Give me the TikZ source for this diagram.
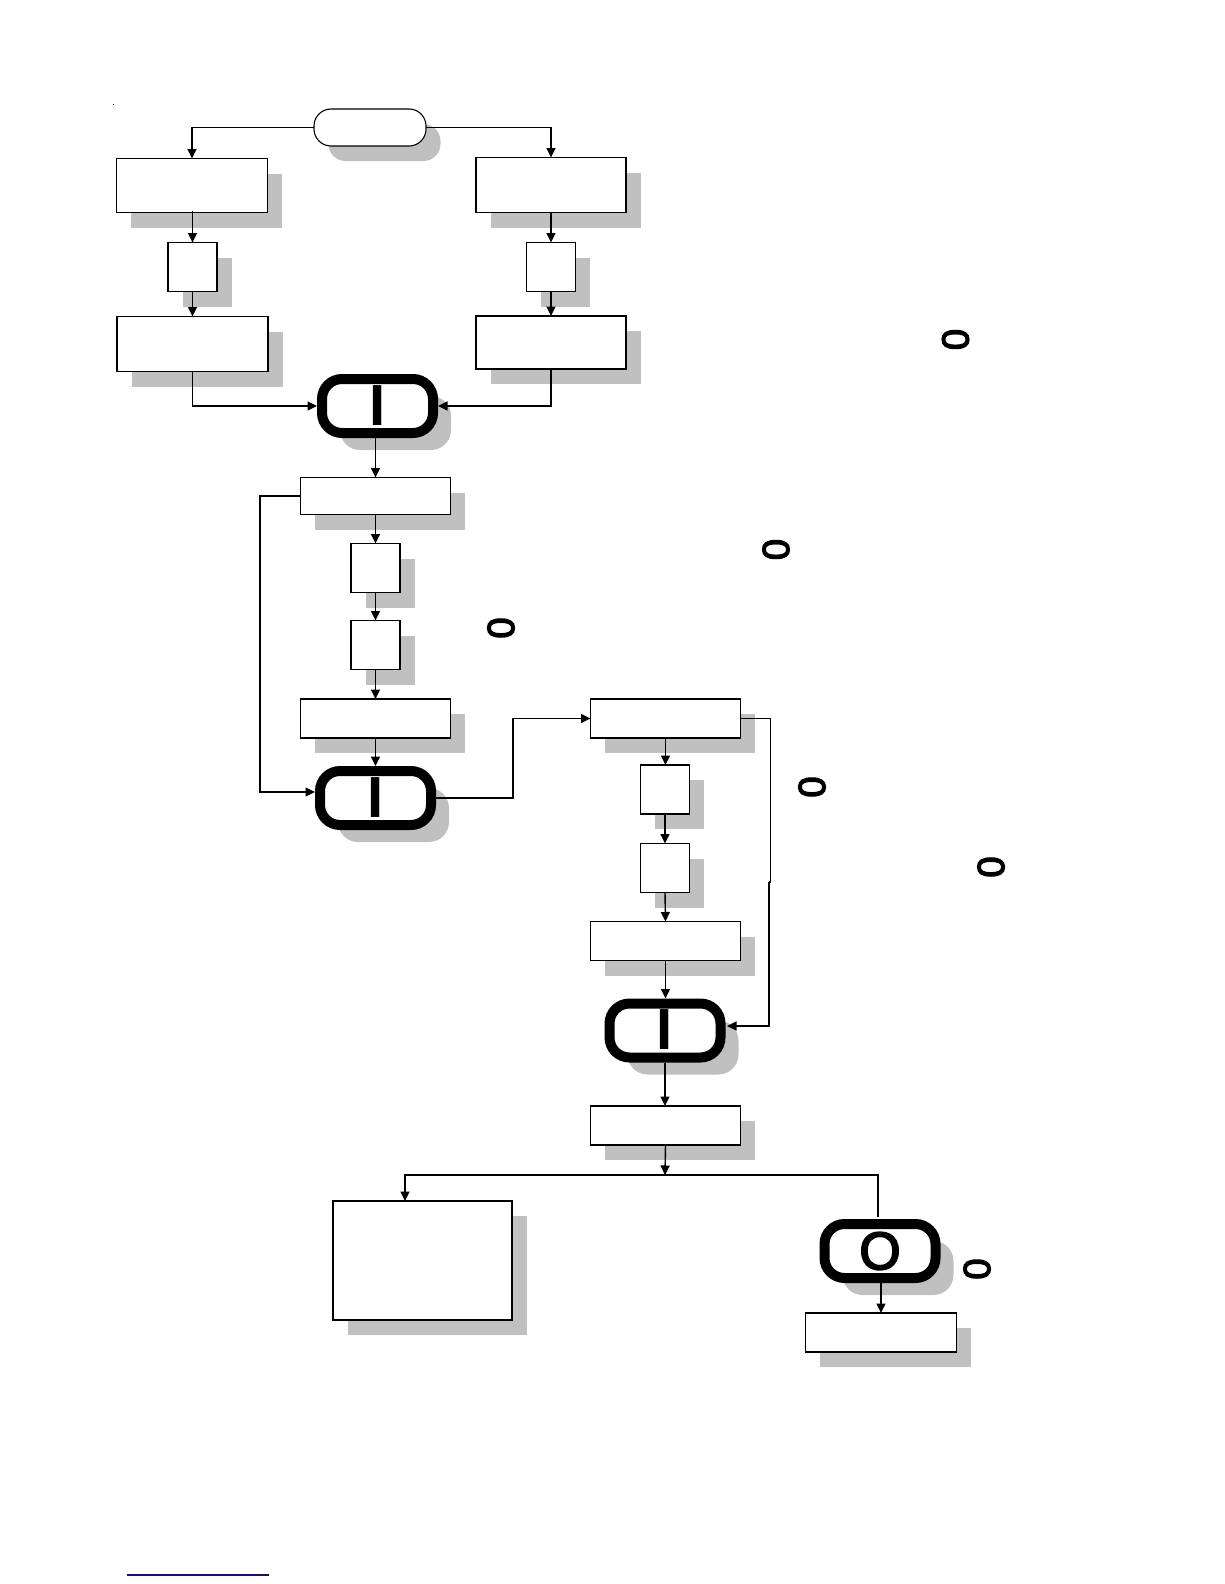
\documentclass[tikz,border=0pt]{standalone}
\usepackage{fontspec}
\setmainfont{Liberation Sans}
\newfontfamily\glyphfont[FakeBold=3.5]{Liberation Sans}
\usetikzlibrary{arrows.meta,shadows,calc}
\definecolor{shadowgray}{HTML}{C0C0C0}
\definecolor{navyline}{HTML}{10107F}
\tikzset{
  x=1pt,y=-1pt,
  sz/.style 2 args={minimum width=#1pt,minimum height=#2pt},
  boxnode/.style={draw=black,line width=1.4pt,fill=white,inner sep=0pt,outer sep=0pt,
    general shadow={shadow xshift=14.5pt,shadow yshift=-15pt,fill=shadowgray}},
  pillnode/.style={draw=black,line width=1.1pt,fill=white,inner sep=0pt,outer sep=0pt,rounded corners=17pt,
    general shadow={shadow xshift=14.5pt,shadow yshift=-15pt,fill=shadowgray}},
  termnode/.style={draw=black,line width=10pt,fill=white,inner sep=0pt,rounded corners=20pt,sz={111}{54},
    general shadow={shadow xshift=18pt,shadow yshift=-17pt,fill=shadowgray}},
  barglyph/.style={inner sep=0pt,font=\fontsize{58}{58}\selectfont\bfseries},
  ringglyph/.style={inner sep=0pt,font=\fontsize{53}{53}\selectfont\glyphfont},
  zeroglyph/.style={inner sep=0pt,rotate=90,font=\fontsize{38}{38}\selectfont\glyphfont},
  conn/.style={draw=black,line width=1.4pt},
  thinconn/.style={line width=1.15pt},
  arrowconn/.style={conn,-{Triangle[length=9.5pt,width=9pt]}},
}
\begin{document}
\begin{tikzpicture}
\useasboundingbox[fill=white] (0,0) rectangle (1224,1584);
% nodes
\node[pillnode,sz={112}{37}] (start) at (370,127.5) {};
\node[boxnode,sz={151}{54}] (L1) at (192,185.5) {};
\node[boxnode,sz={49}{49}] (L2) at (192.5,267) {};
\node[boxnode,sz={151}{55}] (L3) at (192.5,344) {};
\node[boxnode,sz={150}{55}] (R1) at (551,185) {};
\node[boxnode,sz={49}{49}] (R2) at (551,267) {};
\node[boxnode,sz={150}{53}] (R3) at (551,342.5) {};
\node[termnode] (T1) at (377.5,406) {};
\node[barglyph] (T1bar) at (377.5,405.5) {I};
\node[boxnode,sz={150}{37}] (C1) at (375.5,496) {};
\node[boxnode,sz={49}{49}] (C2) at (375.5,568) {};
\node[boxnode,sz={49}{49}] (C3) at (375.5,645) {};
\node[boxnode,sz={150}{39}] (C4) at (375.5,718.5) {};
\node[termnode] (T2) at (375.5,798) {};
\node[barglyph] (T2bar) at (376,798) {I};
\node[boxnode,sz={150}{39}] (D1) at (665.5,718.5) {};
\node[boxnode,sz={49}{49}] (D2) at (665,789.5) {};
\node[boxnode,sz={49}{49}] (D3) at (665,868) {};
\node[boxnode,sz={150}{39}] (D4) at (665.5,941) {};
\node[termnode] (T3) at (665,1030.5) {};
\node[barglyph] (T3bar) at (665,1030) {I};
\node[boxnode,sz={150}{39}] (E1) at (665.5,1125.5) {};
\node[boxnode,sz={179}{119}] (big) at (422.5,1260.5) {};
\node[termnode] (T4) at (880,1251) {};
\node[ringglyph] (T4ring) at (880,1251) {O};
\node[boxnode,sz={151}{39}] (F1) at (881,1332.5) {};
% rotated zeros
\node[zeroglyph] (z1) at (955.5,339.5) {0};
\node[zeroglyph] (z2) at (776,549.5) {0};
\node[zeroglyph] (z3) at (501,628) {0};
\node[zeroglyph] (z4) at (812,787) {0};
\node[zeroglyph] (z5) at (991,867) {0};
\node[zeroglyph] (z6) at (977,1269) {0};
% free ends
\coordinate (lefttop) at (192,127.5);
\coordinate (righttop) at (551,127.5);
\coordinate (t2in) at (315,792);
\coordinate (t3in) at (727,1026);
\coordinate (d1out) at (770.5,718.5);
\coordinate (jogtop) at (770.5,882);
\coordinate (jogbot) at (769,882);
\coordinate (branch) at (665,1175);
\coordinate (bigin) at (405,1201);
\coordinate (t4in) at (878,1217);
% connectors
\draw[arrowconn,thinconn] (start.west) -- (lefttop) -- (L1.north);
\draw[arrowconn,thinconn] (start.east) -- (righttop) -- (R1.north);
\draw[arrowconn] (L2.north |- L1.south) ++(0,-2) -- (L2.north);
\draw[arrowconn] (L2.south) -- (L3.north);
\draw[arrowconn] (R1.south) -- (R2.north);
\draw[arrowconn] (R2.south) -- (R3.north);
\draw[arrowconn] (L3.south) |- (T1.west);
\draw[arrowconn,thinconn] (R3.south) |- (T1.east);
\draw[arrowconn] (C1.north |- T1.south) -- (C1.north);
\draw[arrowconn] (C1.south) -- (C2.north);
\draw[arrowconn] (C2.south) -- (C3.north);
\draw[arrowconn] (C3.south) -- (C4.north);
\draw[arrowconn] (C4.south) -- (T2.north);
\draw[arrowconn,thinconn] (C1.west) -- ++(-40.5,0) |- (t2in);
\draw[arrowconn,thinconn] (T2.east) -- ++(77,0) |- (D1.west);
\draw[arrowconn] (D2.north -| D1.south) ++(0,-26) -- (D2.north -| D1.south);
\draw[arrowconn] (D2.south) -- (D3.north);
\draw[arrowconn] (D3.south) -- (D4.north);
\draw[arrowconn] (D4.south) -- (T3.north -| D4.south);
\draw[conn] (D1.east) -- (d1out) -- (jogtop) -- (jogbot);
\draw[arrowconn,thinconn] (jogbot) |- (t3in);
\draw[arrowconn] (T3.south) -- (E1.north -| T3.south);
\draw[arrowconn] (E1.south) -- (branch);
\draw[conn,line width=1.3pt] (t4in) |- (branch);
\draw[arrowconn,line width=1.3pt] (branch) -| (bigin);
\draw[arrowconn,thinconn] (F1.north |- T4.south) -- (F1.north);
% stray marks
\fill[black] (112.5,104.5) rectangle (113.5,105.5);
\draw[navyline,line width=1.2pt] (127,1575) -- (269,1575);
\end{tikzpicture}
\end{document}
